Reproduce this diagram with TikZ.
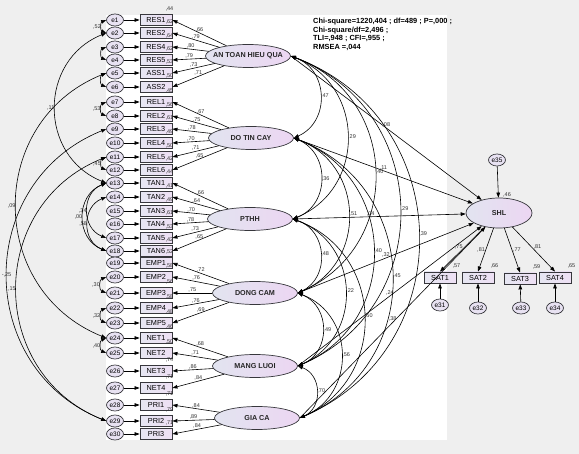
\documentclass[tikz,border=0pt]{standalone}
\usepackage{fontspec}
\setmainfont{Liberation Sans}
\usetikzlibrary{arrows.meta,shapes.geometric}
\definecolor{bggray}{RGB}{239,239,239}
\definecolor{edgegray}{RGB}{55,55,60}
\definecolor{lavleft}{RGB}{226,228,240}
\definecolor{lavright}{RGB}{236,214,242}
\definecolor{boxleft}{RGB}{230,230,242}
\definecolor{boxright}{RGB}{238,224,244}
\definecolor{errfill}{RGB}{232,226,242}

\begin{document}
\begin{tikzpicture}[
    x=1pt, y=-1pt,
    font=\fontsize{7.3}{8}\selectfont,
    lat/.style={draw=edgegray, line width=.7pt, ellipse, left color=lavleft,
      right color=lavright, minimum width=85pt, minimum height=23pt, inner sep=0pt},
    lattext/.style={font=\bfseries\fontsize{7.2}{8}\selectfont, text=black!85},
    ind/.style={draw=edgegray, line width=.9pt, left color=boxleft, right color=boxright,
      minimum width=32pt, minimum height=11pt, inner sep=0pt},
    err/.style={draw=edgegray, line width=.7pt, ellipse, fill=errfill,
      minimum width=17pt, minimum height=12pt, inner sep=0pt,
      font=\fontsize{6.5}{7}\selectfont},
    arr/.style={-{Triangle[length=5pt,width=3.6pt]}, line width=.6pt},
    cov/.style={{Triangle[length=5pt,width=3.6pt]}-{Triangle[length=5pt,width=3.6pt]},
      line width=.6pt},
    lbl/.style={font=\fontsize{5.5}{6}\selectfont, inner sep=.6pt, text=black!80}
  ]
  % canvas
  \useasboundingbox (0,0) rectangle (579,454);
  \fill[bggray] (0,0) rectangle (579,454);
  \fill[white] (106,15) rectangle (447,440);

  % latent factors
  \node[lat, label={[lattext]center:AN TOAN HIEU QUA}] (atq) at (248,56) {};
  \node[lat, label={[lattext]center:DO TIN CAY}] (dtc) at (251,138) {};
  \node[lat, label={[lattext]center:PTHH}] (pthh) at (250,219) {};
  \node[lat, label={[lattext]center:DONG CAM}] (dcam) at (255,293) {};
  \node[lat, label={[lattext]center:MANG LUOI}] (mluoi) at (255,366) {};
  \node[lat, label={[lattext]center:GIA CA}] (gca) at (257,418) {};

  % indicators with their errors
  \foreach \n/\nm/\y/\f/\w/\r in {1/RES1/20/atq/66/44, 2/RES2/33/atq/79/62,
      3/RES4/47/atq/80/64, 4/RES5/60/atq/79/62, 5/ASS1/73/atq/73/53,
      6/ASS2/87/atq/71/50, 7/REL1/102/dtc/67/45, 8/REL2/116/dtc/75/56,
      9/REL3/129/dtc/78/61, 10/REL4/143/dtc/70/49, 11/REL5/157/dtc/71/50,
      12/REL6/170/dtc/65/42, 13/TAN1/183/pthh/66/44, 14/TAN2/197/pthh/64/41,
      15/TAN3/211/pthh/70/49, 16/TAN4/224/pthh/78/61, 17/TAN5/238/pthh/73/53,
      18/TAN6/251/pthh/65/42, 19/EMP1/263/dcam/72/52, 20/EMP2/277/dcam/76/58,
      21/EMP3/293/dcam/75/56, 22/EMP4/308/dcam/76/58, 23/EMP5/323/dcam/69/48,
      24/NET1/338/mluoi/68/46, 25/NET2/353/mluoi/71/50, 26/NET3/371/mluoi/86/74,
      27/NET4/388/mluoi/84/71, 28/PRI1/405/gca/84/71, 29/PRI2/421/gca/89/79,
      30/PRI3/434/gca/84/71} {
    \node[err] (e\n) at (115,\y) {e\n};
    \node[ind] (b\n) at (156,\y) {\nm};
    \node[lbl, anchor=south] at ([xshift=-3pt,yshift=2pt]b\n.north east) {,\r};
    \draw[arr] (e\n) -- (b\n);
    \draw[arr] (\f) -- node[lbl, above] {,\w} (b\n.east);
  }

  % outcome
  \node[lat, minimum width=66pt, minimum height=30pt,
    label={[lattext]center:SHL}] (shl) at (499,213) {};
  \node[lbl] at ([xshift=8pt,yshift=18pt]shl.center) {,46};
  \node[err] (e35) at (497,160) {e35};
  \draw[arr] (e35) -- (shl);

  \node[ind] (sat1) at (440,277.5) {SAT1};
  \node[ind] (sat2) at (478,277.5) {SAT2};
  \node[ind] (sat3) at (520,278.5) {SAT3};
  \node[ind] (sat4) at (555,277.5) {SAT4};
  \node[err] (e31) at (440,305) {e31};
  \node[err] (e32) at (478,308) {e32};
  \node[err] (e33) at (521,308) {e33};
  \node[err] (e34) at (555,308) {e34};
  \foreach \k/\s in {1/57, 2/66, 3/59, 4/65} {
    \node[lbl, anchor=south] at ([yshift=3pt]sat\k.north east) {,\s};
    \draw[arr] (e3\k) -- (sat\k);
  }
  \draw[arr] (shl) -- node[lbl, above left=-1pt] {,75} (sat1.north);
  \draw[arr] (shl) -- node[lbl, left] {,81} (sat2.north);
  \draw[arr] (shl) -- node[lbl, right] {,77} (sat3.north);
  \draw[arr] (shl) -- node[lbl, above right=-1pt] {,81} (sat4.north);

  % structural paths
  \draw[arr] (atq.east) -- node[lbl, above] {,08} (shl);
  \draw[arr] (dtc.east) -- node[lbl, above] {,11} (shl);
  \draw[arr] (pthh.east) -- node[lbl, above, pos=.45] {,04} (shl);
  \draw[arr] (dcam.east) -- node[lbl, above] {,32} (shl);
  \draw[arr] (mluoi.east) -- node[lbl, above] {,24} (shl);
  \draw[arr] (gca.east) -- node[lbl, above] {,38} (shl);

  % factor correlations
  \draw[cov] (atq.east) to[bend left=68, looseness=1.25] node[lbl, right] {,47} (dtc.east);
  \draw[cov] (atq.east) to[bend left=68, looseness=1.25] node[lbl, right] {,29} (pthh.east);
  \draw[cov] (atq.east) to[bend left=68, looseness=1.25] node[lbl, right] {,40} (dcam.east);
  \draw[cov] (atq.east) to[bend left=68, looseness=1.25] node[lbl, right] {,29} (mluoi.east);
  \draw[cov] (atq.east) to[bend left=68, looseness=1.25] node[lbl, right] {,39} (gca.east);
  \draw[cov] (dtc.east) to[bend left=68, looseness=1.25] node[lbl, right] {,36} (pthh.east);
  \draw[cov] (dtc.east) to[bend left=68, looseness=1.25] node[lbl, right] {,51} (dcam.east);
  \draw[cov] (dtc.east) to[bend left=68, looseness=1.25] node[lbl, right] {,40} (mluoi.east);
  \draw[cov] (dtc.east) to[bend left=68, looseness=1.25] node[lbl, right] {,45} (gca.east);
  \draw[cov] (pthh.east) to[bend left=68, looseness=1.25] node[lbl, right] {,48} (dcam.east);
  \draw[cov] (pthh.east) to[bend left=68, looseness=1.25] node[lbl, right] {,22} (mluoi.east);
  \draw[cov] (pthh.east) to[bend left=68, looseness=1.25] node[lbl, right] {,50} (gca.east);
  \draw[cov] (dcam.east) to[bend left=68, looseness=1.25] node[lbl, right] {,49} (mluoi.east);
  \draw[cov] (dcam.east) to[bend left=68, looseness=1.25] node[lbl, right] {,56} (gca.east);
  \draw[cov] (mluoi.east) to[bend left=68, looseness=1.25] node[lbl, right] {,70} (gca.east);

  % error covariances
  \draw[cov] (e1.west) to[bend right=68, looseness=1.25] node[lbl, left] {,52} (e2.west);
  \draw[cov] (e3.west) to[bend right=68, looseness=1.25] (e4.west);
  \draw[cov] (e5.west) to[bend right=68, looseness=1.25] (e6.west);
  \draw[cov] (e7.west) to[bend right=68, looseness=1.25] node[lbl, left] {,53} (e8.west);
  \draw[cov] (e11.west) to[bend right=68, looseness=1.25] node[lbl, left] {,45} (e12.west);
  \draw[cov] (e13.west) to[bend right=68, looseness=1.25] node[lbl, left] {,34} (e17.west);
  \draw[cov] (e13.west) to[bend right=68, looseness=1.25] node[lbl, left] {,00} (e18.west);
  \draw[cov] (e14.west) to[bend right=68, looseness=1.25] node[lbl, left] {,58} (e18.west);
  \draw[cov] (e20.west) to[bend right=68, looseness=1.25] node[lbl, left] {,30} (e21.west);
  \draw[cov] (e22.west) to[bend right=68, looseness=1.25] node[lbl, left] {,32} (e23.west);
  \draw[cov] (e24.west) to[bend right=68, looseness=1.25] node[lbl, left] {,40} (e25.west);
  \draw[cov] (e2.west) to[bend right=68, looseness=1.25] node[lbl, left] {,11} (e13.west);
  \draw[cov] (e5.west) to[bend right=68, looseness=1.25] node[lbl, left] {,09} (e24.west);
  \draw[cov] (e9.west) to[bend right=68, looseness=1.25] node[lbl, left=-5pt] {-,25} (e29.west);
  \draw[cov] (e11.west) to[bend right=68, looseness=1.25] node[lbl, left] {,15} (e29.west);

  % fit
  \node[anchor=north west, align=left, inner sep=0pt,
    font=\bfseries\fontsize{7.4}{8.7}\selectfont] (fitinfo) at (313,18)
    {Chi-square=1220,404 ; df=489 ; P=,000 ;\\Chi-square/df=2,496 ;\\
     TLI=,948 ; CFI=,955 ;\\RMSEA =,044};
\end{tikzpicture}
\end{document}
